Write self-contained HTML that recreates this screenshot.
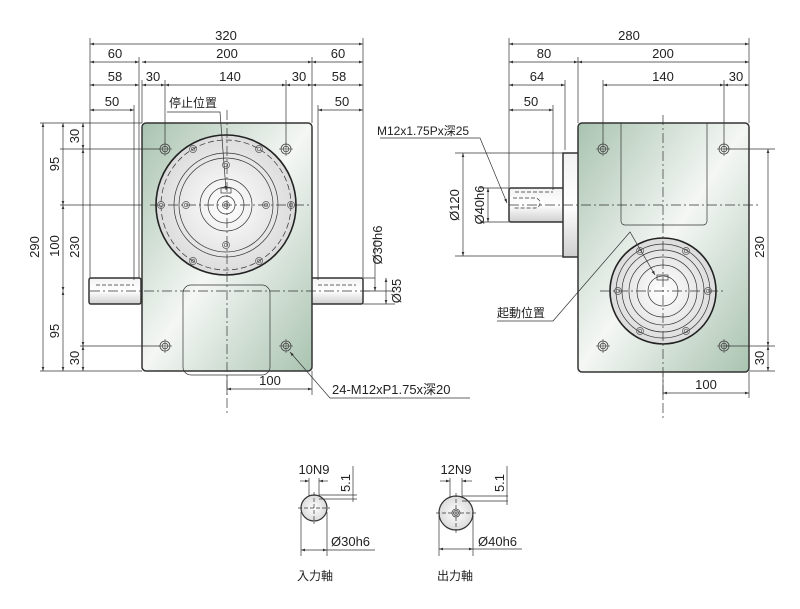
<!DOCTYPE html>
<html><head><meta charset="utf-8"><style>
html,body{margin:0;padding:0;background:#fff}
svg{display:block}
text{font-family:"Liberation Sans","Noto Sans CJK TC",sans-serif;font-size:13px;fill:#222}
.c{font-size:12px}
</style></head><body>
<svg width="800" height="609" viewBox="0 0 800 609" xmlns="http://www.w3.org/2000/svg">
<defs>
<linearGradient id="g" x1="0" y1="0" x2="1" y2="1">
<stop offset="0" stop-color="#a9c3b0"/><stop offset="0.5" stop-color="#f4f7f4"/><stop offset="1" stop-color="#a9c3b0"/>
</linearGradient>
<radialGradient id="d" cx="0.5" cy="0.5" r="0.6"><stop offset="0" stop-color="#fff"/><stop offset="1" stop-color="#d4d4d4"/></radialGradient>
<linearGradient id="s" x1="0" y1="0" x2="0" y2="1"><stop offset="0" stop-color="#f2f2f2"/><stop offset="0.5" stop-color="#fff"/><stop offset="1" stop-color="#cfcfcf"/></linearGradient>
<marker id="a" markerWidth="6" markerHeight="6" refX="6" refY="3" orient="auto-start-reverse"><path d="M0,1 L6,3 L0,5z" fill="#333"/></marker>
<g id="h"><circle r="5" fill="none" stroke="#444" stroke-width="0.8"/><circle r="2.8" fill="none" stroke="#444" stroke-width="0.8"/><line x1="-7" y1="0" x2="7" y2="0" stroke="#444" stroke-width="0.6"/><line x1="0" y1="-7" x2="0" y2="7" stroke="#444" stroke-width="0.6"/></g>
<g id="b"><circle r="3.5" fill="none" stroke="#555" stroke-width="0.7"/><circle r="1.8" fill="none" stroke="#555" stroke-width="0.7"/></g>
</defs>
<g stroke="#333" stroke-width="0.7" fill="none">
<!-- LEFT VIEW -->
<rect x="89" y="278" width="52" height="26" rx="2" fill="url(#s)" stroke="#333" stroke-width="1.5"/>
<rect x="311" y="278" width="52" height="26" rx="2" fill="url(#s)" stroke="#333" stroke-width="1.5"/>
<rect x="142" y="123" width="170" height="248" rx="4" fill="url(#g)" stroke="#333" stroke-width="1.5"/>
<rect x="183" y="285" width="87" height="90" rx="8"/>
<circle cx="226" cy="205" r="70" fill="url(#d)" stroke="#222" stroke-width="1.6"/>
<circle cx="226" cy="205" r="65" stroke-dasharray="6 3"/>
<circle cx="226" cy="205" r="52"/><circle cx="226" cy="205" r="47"/>
<circle cx="226" cy="205" r="26"/><circle cx="226" cy="205" r="18"/><circle cx="226" cy="205" r="9"/>
<rect x="221" y="188" width="10" height="5"/>
<line x1="90" y1="291" x2="373" y2="291" stroke-dasharray="10 3 2 3"/>
<line x1="96" y1="285" x2="134" y2="285" stroke-dasharray="4 2"/>
<line x1="318" y1="285" x2="356" y2="285" stroke-dasharray="4 2"/>
<line x1="150" y1="205" x2="310" y2="205" stroke-dasharray="10 3 2 3"/>
<line x1="227" y1="110" x2="227" y2="415" stroke-dasharray="10 3 2 3"/>
<!-- RIGHT VIEW -->
<rect x="509" y="188" width="56" height="34" rx="2" fill="url(#s)" stroke="#333" stroke-width="1.5"/>
<rect x="563" y="153" width="16" height="104" fill="url(#s)" stroke="#333" stroke-width="1.5"/>
<rect x="578" y="123" width="171" height="249" rx="4" fill="url(#g)" stroke="#333" stroke-width="1.5"/>
<path d="M621,123 V221 a4,4 0 0 0 4,4 H703 a4,4 0 0 0 4,-4 V123"/>
<circle cx="663" cy="291" r="53" fill="url(#d)" stroke="#222" stroke-width="1.6"/>
<circle cx="663" cy="291" r="47"/><circle cx="663" cy="291" r="41"/><circle cx="663" cy="291" r="34"/><circle cx="663" cy="291" r="26"/>
<circle cx="663" cy="291" r="15"/><rect x="657" y="275" width="11" height="5"/>
<line x1="509" y1="205" x2="760" y2="205" stroke-dasharray="10 3 2 3"/>
<line x1="600" y1="291" x2="725" y2="291" stroke-dasharray="10 3 2 3"/>
<line x1="663" y1="115" x2="663" y2="420" stroke-dasharray="10 3 2 3"/>
<path d="M513,198 H535 a4,4 0 0 1 0,10 H513" stroke-dasharray="4 2"/>
<line x1="515" y1="192" x2="553" y2="192" stroke-dasharray="4 2"/>
<!-- dim extension lines left -->
<path d="M90,38 V278 M363,38 V278 M139,57 V278 M312,57 V123 M142,80 V123 M165,80 V145 M286,80 V145 M134,105 V280 M318,105 V280"/>
<path d="M40,123 H142 M60,149 H160 M60,205 H142 M40,371 H142 M80,346 H160 M363,291 H395 M363,304 H395 M363,278 H375 M227,375 V395 M312,371 V395"/>
<!-- dim lines left -->
<g marker-start="url(#a)" marker-end="url(#a)">
<line x1="90" y1="44" x2="363" y2="44"/>
<line x1="90" y1="62" x2="139" y2="62"/><line x1="142" y1="62" x2="312" y2="62"/><line x1="312" y1="62" x2="363" y2="62"/>
<line x1="90" y1="85" x2="139" y2="85"/><line x1="142" y1="85" x2="165" y2="85"/><line x1="165" y1="85" x2="286" y2="85"/><line x1="286" y1="85" x2="312" y2="85"/><line x1="312" y1="85" x2="363" y2="85"/>
<line x1="90" y1="110" x2="134" y2="110"/><line x1="318" y1="110" x2="363" y2="110"/>
<line x1="43" y1="123" x2="43" y2="371"/>
<line x1="63" y1="123" x2="63" y2="205"/><line x1="63" y1="205" x2="63" y2="291"/><line x1="63" y1="291" x2="63" y2="371"/>
<line x1="83" y1="123" x2="83" y2="149"/><line x1="83" y1="149" x2="83" y2="346"/><line x1="83" y1="346" x2="83" y2="371"/>
<line x1="227" y1="389" x2="312" y2="389"/>
<line x1="386" y1="278" x2="386" y2="304"/>
</g>
<line x1="375" y1="240" x2="375" y2="291" marker-end="url(#a)"/>
<!-- dims right -->
<path d="M509,38 V188 M749,38 V123 M578,57 V123 M565,80 V150 M603,80 V145 M724,80 V145 M553,105 V190 M724,149 H775 M724,346 H775 M749,371 H775 M749,372 V398 M663,372 V398 M455,153 H563 M480,188 H509 M480,222 H509 M455,256 H563"/>
<g marker-start="url(#a)" marker-end="url(#a)">
<line x1="509" y1="44" x2="749" y2="44"/>
<line x1="509" y1="62" x2="578" y2="62"/><line x1="578" y1="62" x2="749" y2="62"/>
<line x1="509" y1="85" x2="565" y2="85"/><line x1="603" y1="85" x2="724" y2="85"/><line x1="724" y1="85" x2="749" y2="85"/>
<line x1="509" y1="110" x2="553" y2="110"/>
<line x1="768" y1="149" x2="768" y2="346"/><line x1="768" y1="346" x2="768" y2="371"/>
<line x1="663" y1="393" x2="749" y2="393"/>
<line x1="463" y1="153" x2="463" y2="256"/><line x1="488" y1="188" x2="488" y2="222"/>
</g>
<!-- leaders -->
<path d="M167,112 H220 L226,190" marker-end="url(#a)"/>
<path d="M380,138 H480 L507,203" marker-end="url(#a)"/>
<path d="M497,321 H553 L630,232 L655,275" marker-end="url(#a)"/>
<path d="M470,398 H330 L290,352" marker-end="url(#a)"/>
<!-- bottom small -->
<circle cx="314" cy="508" r="13" fill="url(#d)" stroke="#333" stroke-width="1.2"/>
<path d="M298,508 H330 M314,492 V524" stroke-dasharray="4 2"/>
<path d="M309,478 V496 M319,478 V496 M319,495 H357 M319,499 H357 M301,512 V556 M327,512 V556 M353,466 V502"/>
<g marker-start="url(#a)" marker-end="url(#a)"><line x1="301" y1="550" x2="327" y2="550"/></g>
<line x1="300" y1="481" x2="309" y2="481" marker-end="url(#a)"/><line x1="328" y1="481" x2="319" y2="481" marker-end="url(#a)"/>
<path d="M327,550 H375"/>
<circle cx="456" cy="513" r="17" fill="url(#d)" stroke="#333" stroke-width="1.2"/>
<circle cx="456" cy="513" r="4"/><circle cx="456" cy="513" r="2.5"/>
<path d="M436,513 H476 M456,493 V533" stroke-dasharray="4 2"/>
<path d="M450,478 V498 M462,478 V498 M462,496 H508 M462,501 H508 M439,515 V556 M473,515 V556 M507,466 V505"/>
<g marker-start="url(#a)" marker-end="url(#a)"><line x1="439" y1="549" x2="473" y2="549"/></g>
<line x1="440" y1="481" x2="450" y2="481" marker-end="url(#a)"/><line x1="472" y1="481" x2="462" y2="481" marker-end="url(#a)"/>
<path d="M473,549 H522"/>
</g>
<!-- holes -->
<use href="#h" x="165" y="149"/><use href="#h" x="286" y="149"/><use href="#h" x="165" y="346"/><use href="#h" x="286" y="346"/>
<use href="#h" x="603" y="149"/><use href="#h" x="724" y="149"/><use href="#h" x="603" y="346"/><use href="#h" x="724" y="346"/>
<use href="#b" x="161" y="205"/><use href="#b" x="291" y="205"/><use href="#b" x="193" y="149"/><use href="#b" x="259" y="149"/><use href="#b" x="193" y="261"/><use href="#b" x="259" y="261"/>
<use href="#b" x="186" y="205"/><use href="#b" x="266" y="205"/><use href="#b" x="226" y="165"/><use href="#b" x="226" y="245"/><use href="#b" x="226" y="205"/>
<use href="#b" x="640" y="251"/><use href="#b" x="686" y="251"/><use href="#b" x="640" y="331"/><use href="#b" x="686" y="331"/><use href="#b" x="618" y="291"/><use href="#b" x="708" y="291"/>
<!-- text -->
<text x="226" y="40" text-anchor="middle">320</text>
<text x="115" y="58" text-anchor="middle">60</text><text x="227" y="58" text-anchor="middle">200</text><text x="338" y="58" text-anchor="middle">60</text>
<text x="115" y="81" text-anchor="middle">58</text><text x="153" y="81" text-anchor="middle">30</text><text x="230" y="81" text-anchor="middle">140</text><text x="299" y="81" text-anchor="middle">30</text><text x="339" y="81" text-anchor="middle">58</text>
<text x="112" y="106" text-anchor="middle">50</text><text x="342" y="106" text-anchor="middle">50</text>
<text class="c" x="169" y="107">停止位置</text>
<text x="39" y="247" text-anchor="middle" transform="rotate(-90 39 247)">290</text>
<text x="59" y="164" text-anchor="middle" transform="rotate(-90 59 164)">95</text>
<text x="59" y="246" text-anchor="middle" transform="rotate(-90 59 246)">100</text>
<text x="59" y="331" text-anchor="middle" transform="rotate(-90 59 331)">95</text>
<text x="79" y="136" text-anchor="middle" transform="rotate(-90 79 136)">30</text>
<text x="79" y="247" text-anchor="middle" transform="rotate(-90 79 247)">230</text>
<text x="79" y="358" text-anchor="middle" transform="rotate(-90 79 358)">30</text>
<text x="382" y="245" text-anchor="middle" transform="rotate(-90 382 245)">Ø30h6</text>
<text x="401" y="291" text-anchor="middle" transform="rotate(-90 401 291)">Ø35</text>
<text x="270" y="385" text-anchor="middle">100</text>
<text x="332" y="394">24-M12xP1.75x深20</text>
<text x="629" y="40" text-anchor="middle">280</text>
<text x="544" y="58" text-anchor="middle">80</text><text x="663" y="58" text-anchor="middle">200</text>
<text x="537" y="81" text-anchor="middle">64</text><text x="663" y="81" text-anchor="middle">140</text><text x="736" y="81" text-anchor="middle">30</text>
<text x="531" y="106" text-anchor="middle">50</text>
<text class="c" x="377" y="135">M12x1.75Px深25</text>
<text x="459" y="205" text-anchor="middle" transform="rotate(-90 459 205)">Ø120</text>
<text x="484" y="205" text-anchor="middle" transform="rotate(-90 484 205)">Ø40h6</text>
<text x="764" y="247" text-anchor="middle" transform="rotate(-90 764 247)">230</text>
<text x="764" y="358" text-anchor="middle" transform="rotate(-90 764 358)">30</text>
<text x="706" y="389" text-anchor="middle">100</text>
<text class="c" x="497" y="317">起動位置</text>
<text x="314" y="474" text-anchor="middle">10N9</text>
<text x="350" y="483" text-anchor="middle" transform="rotate(-90 350 483)">5.1</text>
<text x="331" y="546">Ø30h6</text>
<text class="c" x="297" y="580">入力軸</text>
<text x="456" y="474" text-anchor="middle">12N9</text>
<text x="504" y="483" text-anchor="middle" transform="rotate(-90 504 483)">5.1</text>
<text x="478" y="546">Ø40h6</text>
<text class="c" x="437" y="580">出力軸</text>
</svg>
</body></html>
